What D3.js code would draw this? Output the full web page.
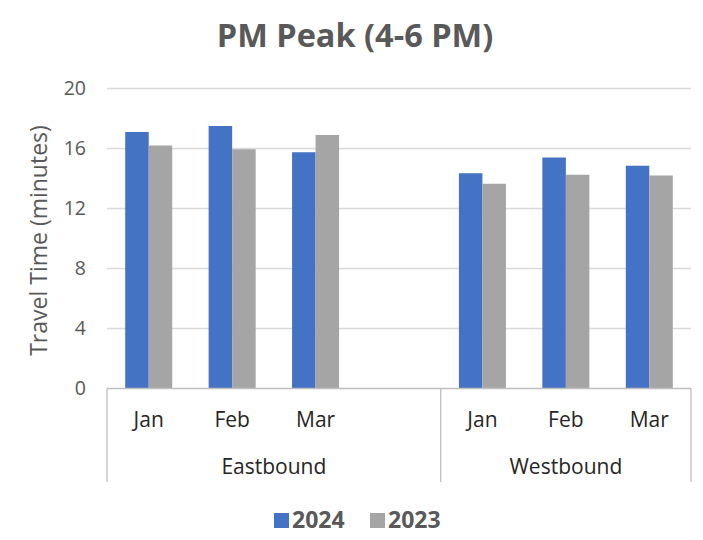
<!DOCTYPE html>
<html><head><meta charset="utf-8">
<script src="https://cdn.jsdelivr.net/npm/d3@7"></script>
<style>body{margin:0;background:#fff}svg{display:block}</style>
</head><body><svg id="c" width="703" height="540"></svg>
<script>
const title = "PM Peak (4-6 PM)";
const yTitle = "Travel Time (minutes)";
const directions = ["Eastbound", "Westbound"];
const eastSlots = ["Jan", "Feb", "Mar", ""];
const westSlots = ["Jan", "Feb", "Mar"];
const seriesNames = ["2024", "2023"];
const east2024 = [17.1, 17.5, 15.75, null];
const east2023 = [16.2, 15.95, 16.9, null];
const west2024 = [14.35, 15.4, 14.85];
const west2023 = [13.65, 14.25, 14.2];
const yTicks = [0, 4, 8, 12, 16, 20];
const colors = ["#4472C4", "#A5A5A5"];

const font = "'Open Sans', sans-serif";
const svg = d3.select("#c");
const L = 107, R = 691, T = 88.5, B = 388.5;

const slots = [];
eastSlots.forEach((m, i) => slots.push({dir: directions[0], month: m, key: "E" + i, v: [east2024[i], east2023[i]]}));
westSlots.forEach((m, i) => slots.push({dir: directions[1], month: m, key: "W" + i, v: [west2024[i], west2023[i]]}));

const x0 = d3.scaleBand().domain(slots.map(s => s.key)).range([L, R]).padding(0);
const x1 = d3.scaleBand().domain(seriesNames).range([0, x0.bandwidth()]).paddingInner(0).paddingOuter(0.775);
const y = d3.scaleLinear().domain([0, 20]).range([B, T]);

// gridlines
svg.append("g").selectAll("line").data(yTicks.filter(t => t > 0)).join("line")
  .attr("x1", L).attr("x2", R).attr("y1", d => y(d)).attr("y2", d => y(d))
  .attr("stroke", "#d9d9d9").attr("stroke-width", 1.3);

// y axis labels
const yAxis = d3.axisLeft(y).tickValues(yTicks).tickSize(0).tickPadding(21);
const yg = svg.append("g").attr("transform", `translate(${L},0)`).call(yAxis);
yg.select(".domain").remove();
yg.selectAll("text").attr("font-family", font).attr("font-size", 19.5).attr("fill", "#595959");

// bars
const g = svg.append("g");
slots.forEach(s => {
  seriesNames.forEach((n, j) => {
    if (s.v[j] == null) return;
    g.append("rect")
      .attr("x", x0(s.key) + x1(n)).attr("width", x1.bandwidth())
      .attr("y", y(s.v[j])).attr("height", y(0) - y(s.v[j]))
      .attr("fill", colors[j]);
  });
});

// x axis line
svg.append("line").attr("x1", L).attr("x2", R).attr("y1", B).attr("y2", B)
  .attr("stroke", "#bfbfbf").attr("stroke-width", 1.3);

// group separators
const eastStart = x0("E0"), westStart = x0("W0"), end = R;
[eastStart, westStart, end].forEach(xv => {
  svg.append("line").attr("x1", xv).attr("x2", xv).attr("y1", B).attr("y2", 482)
    .attr("stroke", "#bfbfbf").attr("stroke-width", 1.3);
});

// month labels
svg.append("g").selectAll("text").data(slots.filter(s => s.month)).join("text")
  .attr("x", s => x0(s.key) + x0.bandwidth() / 2).attr("y", 427)
  .attr("text-anchor", "middle").attr("font-family", font).attr("font-size", 21)
  .attr("fill", "#262626").text(s => s.month);

// group labels
const groupRanges = [[eastStart, westStart], [westStart, end]];
svg.append("g").selectAll("text").data(directions).join("text")
  .attr("x", (d, i) => (groupRanges[i][0] + groupRanges[i][1]) / 2).attr("y", 474)
  .attr("text-anchor", "middle").attr("font-family", font).attr("font-size", 21)
  .attr("fill", "#262626").text(d => d);

// y title
svg.append("text").attr("transform", `translate(47,${(T + B) / 2 + 2}) rotate(-90)`)
  .attr("text-anchor", "middle").attr("font-family", font).attr("font-size", 23)
  .attr("fill", "#595959").text(yTitle);

// title
svg.append("text").attr("x", 355).attr("y", 47).attr("text-anchor", "middle")
  .attr("font-family", font).attr("font-size", 32.5).attr("font-weight", "bold")
  .attr("fill", "#595959").text(title);

// legend
const legX = [274, 370];
seriesNames.forEach((n, i) => {
  svg.append("rect").attr("x", legX[i]).attr("y", 513).attr("width", 15).attr("height", 15).attr("fill", colors[i]);
  svg.append("text").attr("x", legX[i] + 18).attr("y", 528).attr("font-family", font)
    .attr("font-size", 23).attr("font-weight", "bold").attr("fill", "#595959").text(n);
});
</script></body></html>
